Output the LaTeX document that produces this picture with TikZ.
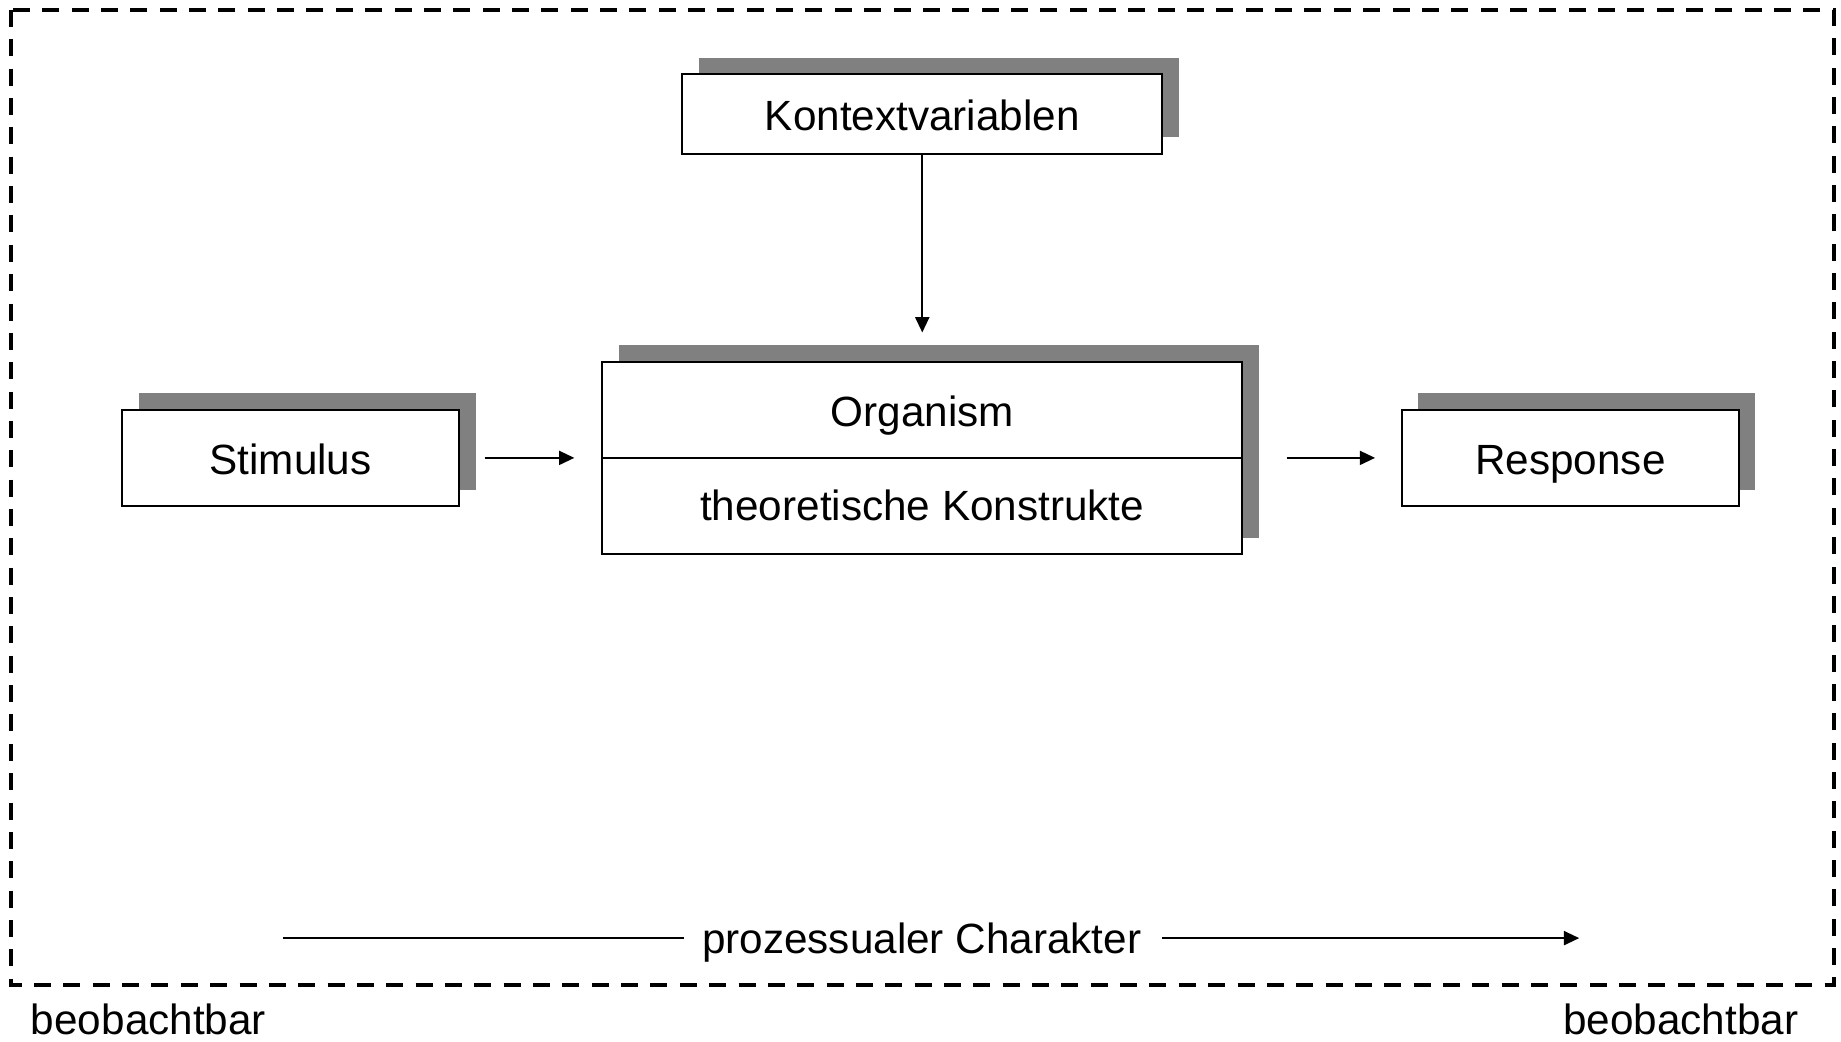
\documentclass[tikz,border=0pt]{standalone}
\usepackage{fontspec}
\setmainfont{Liberation Sans}
\usetikzlibrary{shadows,arrows.meta,calc}
\definecolor{shadowgray}{RGB}{128,128,128}
\begin{document}
\begin{tikzpicture}[x=0.5pt,y=-0.5pt,
  font=\fontsize{18}{21.6}\selectfont,
  sbox/.style={draw=black, line width=0.85pt, fill=white, rectangle,
    inner sep=0pt, text height=14pt, text depth=0pt,
    drop shadow={shadow xshift=7pt, shadow yshift=7pt, fill=shadowgray, opacity=1}},
  flow/.style={line width=0.75pt, -{Triangle[length=6.5pt,width=6pt]}},
  txt/.style={inner sep=0pt, anchor=base},
  outline/.style={line width=1.7pt, dash pattern=on 7.25pt off 5.25pt}
]
\useasboundingbox (0,0) rectangle (1568,887);

% dashed outer frame
\draw[outline] (9.5,8.5) rectangle (1562,839);

% boxes
\node[sbox, minimum width=204.5pt, minimum height=34pt] (kontext) at (785.5,97) {Kontextvariablen};
\node[sbox, minimum width=272.5pt, minimum height=82pt] (org) at (785.5,390) {};
\node[sbox, minimum width=143.5pt, minimum height=41pt] (stim) at (247.5,390) {Stimulus};
\node[sbox, minimum width=143.5pt, minimum height=41pt] (resp) at (1337.5,390) {Response};

% organism: two compartments
\draw[line width=0.85pt] (org.west) -- (org.east);
\node[txt] (orgname) at (785.5,363.5) {Organism};
\node[txt] (orgcons) at (785.5,443) {theoretische Konstrukte};

% connectors
\draw[flow, shorten <=10.5pt, shorten >=11.5pt] (stim.east) -- (org.west);
\draw[flow, shorten <=18.5pt, shorten >=11pt] (org.east) -- (resp.west);
\draw[flow, shorten >=12pt] (kontext.south) -- (org.north);

% process arrow along the bottom
\node[txt] (proc) at (785,812) {prozessualer Charakter};
\coordinate (procstart) at (241,799);
\coordinate (procend) at (1345,799);
\draw[line width=0.75pt, shorten >=7.5pt] (procstart) -- (procstart -| proc.west);
\draw[flow, shorten <=8.5pt] (procstart -| proc.east) -- (procend);

% captions below the frame
\node[txt, anchor=base west] (obsleft) at (26,881) {beobachtbar};
\node[txt, anchor=base east] (obsright) at (1532,881) {beobachtbar};
\end{tikzpicture}
\end{document}
